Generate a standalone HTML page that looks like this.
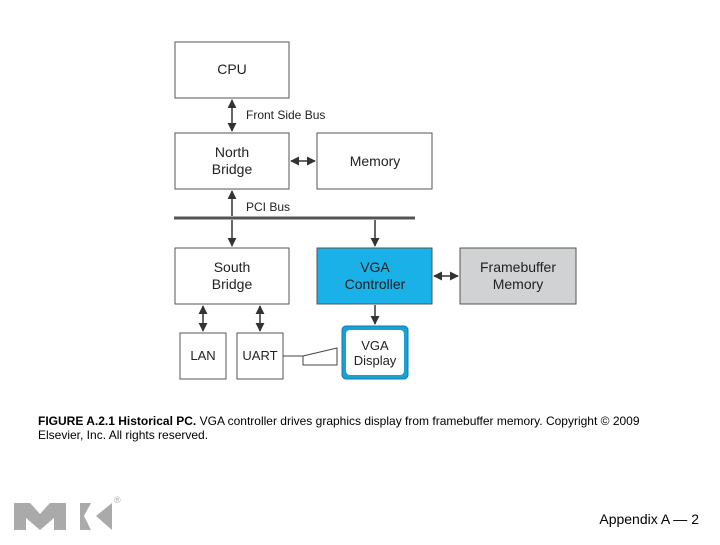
<!DOCTYPE html>
<html><head><style>
body{margin:0;background:#fff;width:720px;height:540px;overflow:hidden;font-family:"Liberation Sans",Arial,sans-serif}
</style></head><body>
<svg width="720" height="540" xmlns="http://www.w3.org/2000/svg" font-family="Liberation Sans, Arial, sans-serif">
<defs>
<marker id="a" viewBox="0 0 10 10" refX="9" refY="5" markerWidth="6" markerHeight="6" orient="auto-start-reverse"><path d="M0,0 L10,5 L0,10 z" fill="#333"/></marker>
</defs>
<g stroke="#555" stroke-width="1" fill="#fff">
<rect x="175" y="42" width="114" height="56"/>
<rect x="175" y="133" width="114" height="56"/>
<rect x="317" y="133" width="115" height="56"/>
<rect x="175" y="248" width="114" height="56"/>
<rect x="317" y="248" width="115" height="56" fill="#1ab0e8"/>
<rect x="460" y="248" width="116" height="56" fill="#d0d2d4"/>
<rect x="180" y="333" width="46" height="46"/>
<rect x="237" y="333" width="46" height="46"/>
</g>
<rect x="342" y="326" width="66" height="53" rx="4" fill="#1a9fd6" stroke="#1478a8"/>
<rect x="346" y="330" width="58" height="45" rx="4" fill="#fff"/>
<line x1="174" y1="218" x2="415" y2="218" stroke="#555" stroke-width="3"/>
<g stroke="#333" stroke-width="1.5" fill="none">
<line x1="232" y1="100" x2="232" y2="131" marker-start="url(#a)" marker-end="url(#a)"/>
<line x1="291" y1="161" x2="315" y2="161" marker-start="url(#a)" marker-end="url(#a)"/>
<line x1="232" y1="191" x2="232" y2="216" marker-start="url(#a)"/>
<line x1="232" y1="220" x2="232" y2="246" marker-end="url(#a)"/>
<line x1="375" y1="220" x2="375" y2="246" marker-end="url(#a)"/>
<line x1="434" y1="276" x2="458" y2="276" marker-start="url(#a)" marker-end="url(#a)"/>
<line x1="375" y1="305" x2="375" y2="324" marker-end="url(#a)"/>
<line x1="203" y1="306" x2="203" y2="331" marker-start="url(#a)" marker-end="url(#a)"/>
<line x1="260" y1="306" x2="260" y2="331" marker-start="url(#a)" marker-end="url(#a)"/>
</g>
<path d="M283 356 H303 V365 H337 V348 L303 356" fill="none" stroke="#444" stroke-width="1"/>
<g font-size="14" fill="#222" text-anchor="middle">
<text x="232" y="74">CPU</text>
<text x="232" y="157">North</text><text x="232" y="174">Bridge</text>
<text x="375" y="166">Memory</text>
<text x="232" y="272">South</text><text x="232" y="289">Bridge</text>
<text x="375" y="272">VGA</text><text x="375" y="289">Controller</text>
<text x="518" y="272">Framebuffer</text><text x="518" y="289">Memory</text>
<text x="203" y="360" font-size="13">LAN</text>
<text x="260" y="360" font-size="13">UART</text>
<text x="375" y="350" font-size="13">VGA</text><text x="375" y="365" font-size="13">Display</text>
</g>
<g font-size="12" fill="#222">
<text x="246" y="119">Front Side Bus</text>
<text x="246" y="211">PCI Bus</text>
</g>
<g font-size="12" fill="#000">
<text x="38" y="425"><tspan font-weight="bold">FIGURE A.2.1 Historical PC.</tspan> VGA controller drives graphics display from framebuffer memory. Copyright © 2009</text>
<text x="38" y="439">Elsevier, Inc. All rights reserved.</text>
<text x="699" y="524" font-size="14" text-anchor="end">Appendix A — 2</text>
</g>
<g fill="#aaa">
<path d="M14 503 H30 L40 514 L50 503 H66 V530 H54 V518 L40 530 L26 518 V530 H14 Z"/>
<path d="M80 503 H91 L84 516 L91 530 H80 Z"/>
<path d="M112 503 V530 L96 516 Z"/>
<text x="114" y="503" font-size="9">®</text>
</g>
</svg>
</body></html>
